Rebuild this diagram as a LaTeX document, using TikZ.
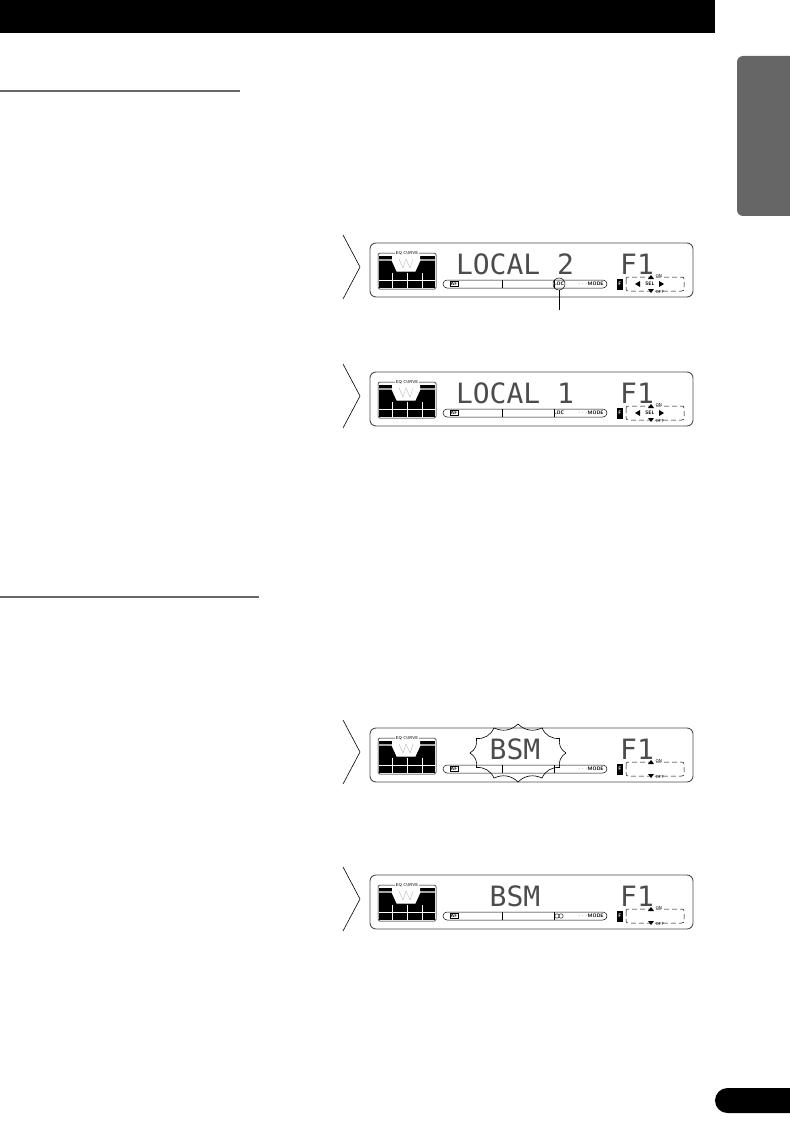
\documentclass[tikz,border=0pt]{standalone}
\usepackage{fontspec}
\usepackage{tikz}
\newfontfamily\lcdfont{DejaVu Sans Mono}
\definecolor{tabgray}{HTML}{666666}

\begin{document}
\begin{tikzpicture}[
    x=1pt, y=-1pt,
    panel/.style={draw=black!70, line width=0.9pt, rounded corners=6pt},
    pointer/.style={draw=black, line width=0.6pt},
    thinline/.style={draw=black, line width=0.5pt},
    headrule/.style={draw=tabgray, line width=2pt},
    lcdtext/.style={font=\lcdfont\fontsize{28}{28}\selectfont, text=black!70, inner sep=0pt},
    lcdsmall/.style={font=\sffamily\bfseries\fontsize{5}{5}\selectfont, inner sep=0.6pt},
    lcdtiny/.style={font=\sffamily\fontsize{4.3}{4.5}\selectfont, inner sep=0.4pt},
    eqlabel/.style={lcdtiny, fill=white},
    tagbox/.style={lcdsmall, draw, line width=0.4pt},
    fkey/.style={lcdsmall, fill=black, text=white, minimum width=6pt, minimum height=11pt, inner sep=0pt},
    stereo/.style={draw, circle, line width=0.4pt, minimum size=4.5pt, inner sep=0pt},
    flashline/.style={draw=black, line width=0.6pt},
    pics/lcd/.style={code={
        % frame and pointer
        \draw[panel] (0,0) rectangle (323,54);
        \draw[pointer] (-27,-8) -- (-10,24) -- (-27,56);
        % EQ curve window
        \fill[black] (9,13) rectangle (65,45);
        \fill[white] (22,13) -- (22,17) -- (27,28) -- (45,28) -- (50,17) -- (50,13) -- cycle;
        \draw[black!35, line width=0.3pt] (29,16) -- (33,25) -- (36,16) -- (40,25) -- (43,16);
        \draw[white, line width=0.4pt] (37,30) -- (37,45) (9,37) -- (65,37) (22,30) -- (22,45) (52,30) -- (52,45);
        \draw[white, line width=1.2pt] (9,17) -- (22,17) -- (27,28) -- (45,28) -- (50,17) -- (65,17);
        \draw[thinline, rounded corners=1.5pt] (8,10) rectangle (66,46);
        \node[eqlabel] (-eq) at (37,10) {EQ CURVE};
        % characters
        \node[lcdtext] (-main) at (145,21) {#1};
        \node[lcdtext] (-band) at (267,21) {F1};
        % lower strip
        \draw[thinline, rounded corners=4pt] (73,37) rectangle (237,45);
        \draw[thinline] (132,37) -- (132,45) (184,37) -- (184,45);
        \node[tagbox] (-af) at (84,41) {AF};
        \node[lcdsmall] (-mode) at (221,41) {$\cdots$MODE};
        \coordinate (-locpos) at (189,41);
        % function keys
        \node[fkey] (-fkey) at (250,41) {F};
        \draw[thinline, dash pattern=on 5pt off 3pt, rounded corners=2pt] (256,34) rectangle (314,48);
        \fill (278,36) -- (284,36) -- (281,32) -- cycle;
        \fill (278,46) -- (284,46) -- (281,50) -- cycle;
        \node[lcdtiny, anchor=west] (-on) at (285,33) {ON};
        \node[lcdtiny, anchor=west] (-off) at (285,49) {OFF};
        \coordinate (-selpos) at (280,41);
        \coordinate (-burst) at (148,25);
    }},
    pics/selkeys/.style={code={
        \fill (-10,-3) -- (-10,3) -- (-15,0) -- cycle;
        \fill (9,-3) -- (9,3) -- (14,0) -- cycle;
        \node[lcdsmall] (-sel) at (0,0) {SEL};
    }},
    pics/flash/.style={code={
        \draw[flashline] (48,0) to[bend left=35] (41.6,-14.5) to[bend left=35] (24,-25.1)
            to[bend left=35] (0,-29) to[bend left=35] (-24,-25.1) to[bend left=35] (-41.6,-14.5)
            to[bend left=35] (-48,0) to[bend left=35] (-41.6,14.5) to[bend left=35] (-24,25.1)
            to[bend left=35] (0,29) to[bend left=35] (24,25.1) to[bend left=35] (41.6,14.5)
            to[bend left=35] (48,0);
    }}
]
\useasboundingbox (0,0) rectangle (789,1123);

% Page furniture
\fill[black] (0,0) rectangle (715,33);
\fill[tabgray, rounded corners=6pt] (737,56) rectangle (800,216);
\fill[black, rounded corners=12.5pt] (715,1088) rectangle (810,1113);
\draw[headrule] (0,91) -- (240,91);
\draw[headrule] (0,597) -- (259,597);

% Local 2
\pic (d1) at (370,243) {lcd={LOCAL 2}};
\pic (d1k) at (d1-selpos) {selkeys};
\node[lcdsmall, draw, circle, line width=0.5pt, minimum size=12pt, inner sep=0pt] (d1-loc) at (d1-locpos) {LOC};
\coordinate (lead) at (559,310);
\draw[thinline] (d1-loc) -- (lead);

% Local 1
\pic (d2) at (370,372) {lcd={LOCAL 1}};
\pic (d2k) at (d2-selpos) {selkeys};
\node[lcdsmall] (d2-loc) at (d2-locpos) {LOC};

% BSM flashing
\pic (d3) at (370,728) {lcd={BSM}};
\pic (d3f) at (d3-burst) {flash};

% BSM done
\pic (d4) at (370,875) {lcd={BSM}};
\node[stereo] (d4-st1) at ([xshift=-2pt]d4-locpos) {};
\node[stereo] (d4-st2) at ([xshift=2pt]d4-locpos) {};

\end{tikzpicture}
\end{document}
